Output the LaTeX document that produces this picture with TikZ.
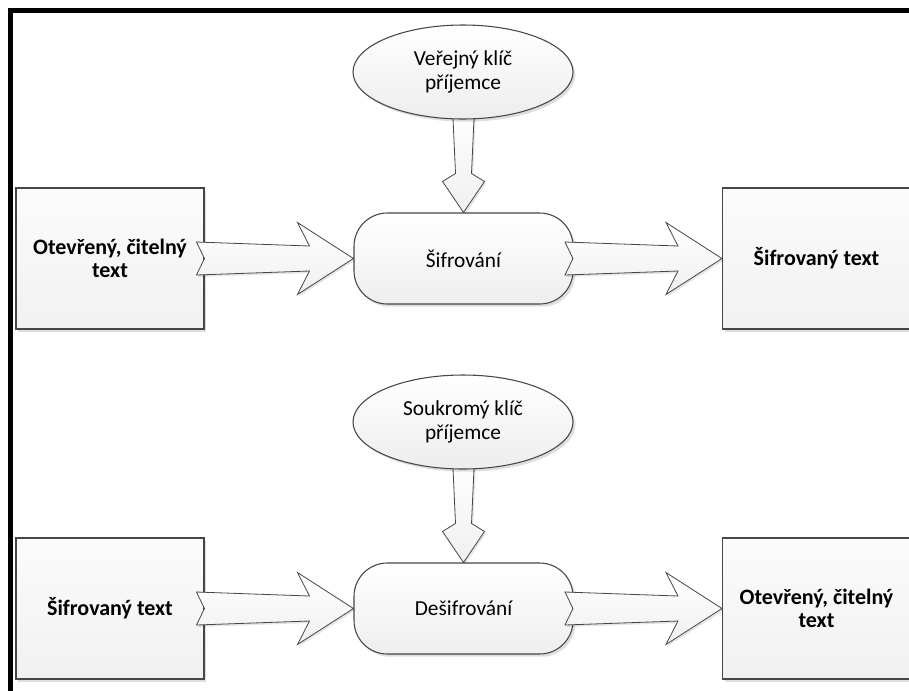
\documentclass[tikz,border=0pt]{standalone}
\usepackage{fontspec}
\setmainfont{Carlito}
\usetikzlibrary{shapes.geometric,shadows}
\begin{document}
\begin{tikzpicture}[x=0.75pt,y=-0.75pt,
  shad/.style={drop shadow={shadow xshift=1.8pt,shadow yshift=-2pt,fill=black,opacity=0.13}},
  txt/.style={font=\fontsize{16pt}{18pt}\selectfont, align=center},
  boxnode/.style={draw=gray!55!black, line width=0.8pt, top color=gray!3, bottom color=gray!11, shad,
    minimum width=141pt, minimum height=105.75pt, inner sep=0pt, align=center,
    font=\bfseries\fontsize{16.5pt}{17pt}\selectfont},
  procnode/.style={draw=gray!55!black, line width=0.8pt, top color=white, bottom color=gray!13, shad,
    rounded corners=25pt, minimum width=164.25pt, minimum height=68.25pt, inner sep=0pt, txt},
  keynode/.style={ellipse, draw=gray!55!black, line width=0.8pt, top color=white, bottom color=gray!14, shad,
    minimum width=165pt, minimum height=70.5pt, inner sep=0pt, txt},
  arrowshape/.style={draw=gray!55!black, line width=0.6pt, line join=miter, top color=white, bottom color=gray!12,
    drop shadow={shadow xshift=1.2pt,shadow yshift=-1.5pt,fill=black,opacity=0.1}},
  harrow/.pic={\path[arrowshape] (0,0) -- (-56,-36) -- (-44,-12.5) -- (-157,-16.5) -- (-149,0)
      -- (-157,16.5) -- (-44,12.5) -- (-56,36) -- cycle;},
  varrow/.pic={\path[arrowshape] (0,0) -- (-21,-31) -- (-8,-39) -- (-11,-105)
      -- (11,-105) -- (8,-39) -- (21,-31) -- cycle;}
]
\useasboundingbox (0,0) rectangle (909,690);
\fill[white] (0,0) rectangle (909,690);
% frame
\draw[line width=3.2pt, black] (10.5,710) -- (10.5,10.5) -- (930,10.5);

% top row
\node[boxnode] (b1) at (110,258.5) {Otevřený, čitelný\\text};
\node[procnode] (p1) at (463.5,258.5) {Šifrování};
\node[boxnode] (r1) at (816.5,258.5) {Šifrovaný text};
\pic at (p1.north) {varrow};
\node[keynode] (e1) at (463,72) {Veřejný klíč\\příjemce};
\pic at (p1.west) {harrow};
\pic at (r1.west) {harrow};

% bottom row
\node[boxnode] (b2) at (110,608.5) {Šifrovaný text};
\node[procnode] (p2) at (463.5,608.5) {Dešifrování};
\node[boxnode] (r2) at (816.5,608.5) {Otevřený, čitelný\\text};
\pic at (p2.north) {varrow};
\node[keynode] (e2) at (463,422) {Soukromý klíč\\příjemce};
\pic at (p2.west) {harrow};
\pic at (r2.west) {harrow};
\end{tikzpicture}
\end{document}
